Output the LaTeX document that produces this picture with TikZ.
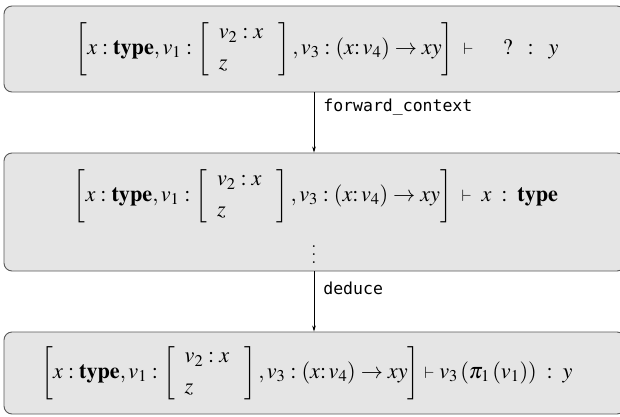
\documentclass[tikz,border=0pt]{standalone}
\usepackage{mathptmx}
\usepackage[no-math]{fontspec}
\setmonofont{DejaVu Sans Mono}
\usetikzlibrary{arrows.meta}

% the context shared by all three goals
\newcommand{\goalctx}{\left[x : \mathbf{type}, v_1 : \left[\;\begin{array}{l} v_2 : x\\[5pt] z\end{array}\;\;\right], v_3 : (x\colon v_4) \to xy\right]}
\newcommand{\turn}{\mathrel{\scriptstyle\vdash}}
% \vdots with wider spacing between the dots
\newcommand{\widevdots}{\vbox{\baselineskip8pt\lineskiplimit0pt\hbox{.}\hbox{.}\hbox{.}}}

\tikzset{
  judgebox/.style={draw=black!65, fill=black!10, rounded corners=8pt, line width=0.9pt,
    minimum width=621pt, inner sep=0pt},
  judgement/.style={font=\fontsize{22.2}{26}\selectfont, inner sep=0pt},
  steplabel/.style={font=\ttfamily\fontsize{16.5}{19}\selectfont, anchor=west, inner sep=0pt},
  flow/.style={-{Stealth[length=6pt,width=3.6pt]}, line width=0.7pt}
}

\begin{document}
\begin{tikzpicture}[x=1pt,y=1pt]
\useasboundingbox (0,0) rectangle (620,416);

% goals
\node[judgebox, minimum height=86pt] (b1) at (314.5,367) {};
\node[judgement] (j1) at (317,367) {$\goalctx \;\turn\;\;\;\;\; \mathbf{?} \;\;:\;\; y$};

\node[judgebox, minimum height=118pt] (b2) at (314.5,204) {};
\node[judgement] (j2) at (316,220) {$\goalctx \;\turn\; x \;:\; \mathbf{type}$};
\node[judgement] (d2) at (314,161) {\widevdots};

\node[judgebox, minimum height=82pt] (b3) at (314.5,43) {};
\node[judgement] (j3) at (307,43) {$\goalctx \turn v_3 \left(\pi_1 \left(v_1\right)\right) \;:\; y$};

% steps between goals
\coordinate (ax) at (314,0);
\draw[flow] (b1.south -| ax) -- node[steplabel, pos=0.25, xshift=9pt] (s1) {forward\_context} (b2.north -| ax);
\draw[flow] (b2.south -| ax) -- node[steplabel, pos=0.28, xshift=9pt] (s2) {deduce} (b3.north -| ax);
\end{tikzpicture}
\end{document}
